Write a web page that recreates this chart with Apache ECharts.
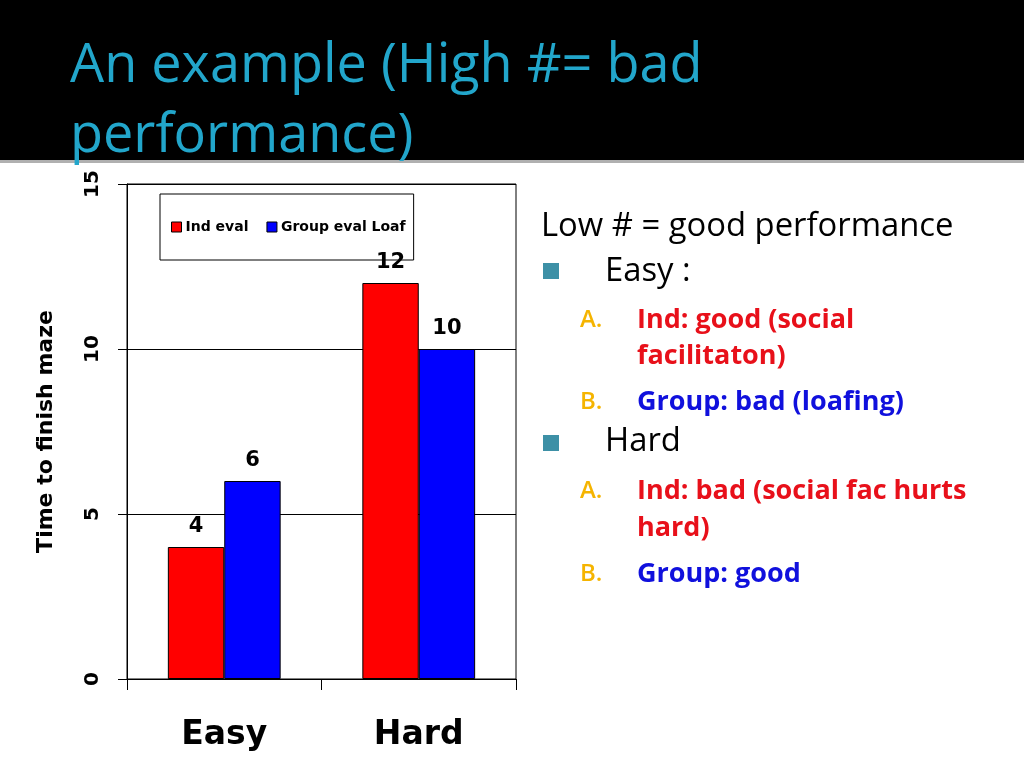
<!DOCTYPE html>
<html>
<head>
<meta charset="utf-8">
<script src="https://cdn.jsdelivr.net/npm/echarts@6/dist/echarts.min.js"></script>
<style>
html,body{margin:0;padding:0;background:#fff;}
#main{width:1024px;height:768px;}
</style>
</head>
<body>
<div id="main"></div>
<script>
var categories = ['Easy', 'Hard'];
var indEval = [4, 12];
var groupEval = [6, 10];
var seriesNames = ['Ind eval', 'Group eval Loaf'];
var yTicks = { min: 0, max: 15, interval: 5 };
var titleLines = ['An example (High #= bad', 'performance)'];
var yAxisName = 'Time to finish maze';

var chart = echarts.init(document.getElementById('main'));
var bodyFont = '"Open Sans", "Noto Sans", sans-serif';
var chartFont = '"DejaVu Sans", Verdana, sans-serif';

function txt(t, x, y, size, color, weight) {
  return {
    type: 'text', z: 100,
    style: {
      text: t, x: x, y: y, fill: color,
      font: (weight || 'normal') + ' ' + size + 'px ' + bodyFont,
      align: 'left', verticalAlign: 'middle'
    }
  };
}
function square(x, y) {
  return { type: 'rect', z: 100, shape: { x: x, y: y, width: 16, height: 16 }, style: { fill: '#3d90a6' } };
}

var red = '#ff0000', blue = '#0000ff';
var txtRed = '#e8101a', txtBlue = '#1010dd', orange = '#f5b400';

var graphics = [
  { type: 'rect', z: 90, shape: { x: 0, y: 0, width: 1024, height: 160 }, style: { fill: '#000' } },
  { type: 'rect', z: 90, shape: { x: 0, y: 160, width: 1024, height: 3 }, style: { fill: '#b0b0b0' } },
  txt(titleLines[0], 70, 67, 54, '#22a6cb'),
  txt(titleLines[1], 70, 137, 54, '#22a6cb'),
  txt('Low # = good performance', 541, 227, 32.8, '#000'),
  square(543, 263),
  txt('Easy :', 605, 272, 32.8, '#000'),
  txt('A.', 580, 320, 24, orange, '600'),
  txt('Ind: good (social', 637, 320, 27, txtRed, 'bold'),
  txt('facilitaton)', 637, 356, 27, txtRed, 'bold'),
  txt('B.', 580, 402, 24, orange, '600'),
  txt('Group: bad (loafing)', 637, 402, 27, txtBlue, 'bold'),
  square(543, 435),
  txt('Hard', 605, 442, 32.8, '#000'),
  txt('A.', 580, 491, 24, orange, '600'),
  txt('Ind: bad (social fac hurts', 637, 491, 27, txtRed, 'bold'),
  txt('hard)', 637, 528, 27, txtRed, 'bold'),
  txt('B.', 580, 574, 24, orange, '600'),
  txt('Group: good', 637, 574, 27, txtBlue, 'bold')
];

var labelStyle = { show: true, position: 'top', distance: 10, color: '#000', fontWeight: 'bold', fontSize: 21, fontFamily: chartFont };

chart.setOption({
  backgroundColor: '#fff',
  animation: false,
  grid: { left: 127, right: 508, top: 184, bottom: 89, show: true, borderColor: '#000', borderWidth: 1, backgroundColor: 'transparent' },
  legend: {
    left: 160, top: 194, z: 1,
    padding: [26, 8, 26, 11],
    backgroundColor: '#fff', borderColor: '#000', borderWidth: 1,
    itemWidth: 10, itemHeight: 10, itemGap: 18,
    icon: 'rect',
    itemStyle: { borderColor: '#000', borderWidth: 1 },
    textStyle: { fontFamily: chartFont, fontWeight: 'bold', fontSize: 14, color: '#000', padding: [0, 0, 0, -1] },
    data: seriesNames
  },
  xAxis: {
    type: 'category', data: categories,
    axisLine: { lineStyle: { color: '#000', width: 1 } },
    axisTick: { show: true, length: 11, lineStyle: { color: '#000' } },
    axisLabel: { color: '#000', fontWeight: 'bold', fontSize: 33, fontFamily: chartFont, margin: 40 }
  },
  yAxis: {
    type: 'value', min: yTicks.min, max: yTicks.max, interval: yTicks.interval,
    name: yAxisName, nameLocation: 'middle', nameRotate: 90, nameGap: 70,
    nameTextStyle: { color: '#000', fontWeight: 'bold', fontSize: 22, fontFamily: chartFont },
    axisLine: { show: true, lineStyle: { color: '#000', width: 1 } },
    axisTick: { show: true, length: 9, lineStyle: { color: '#000' } },
    axisLabel: { color: '#000', fontWeight: 'bold', fontSize: 20, fontFamily: chartFont, rotate: 90, margin: 24 },
    splitLine: { show: true, lineStyle: { color: '#000', width: 1 } }
  },
  series: [
    { name: seriesNames[0], type: 'bar', data: indEval, barGap: '0%', barCategoryGap: '42%', z: 5,
      itemStyle: { color: red, borderColor: '#000', borderWidth: 1 }, label: labelStyle },
    { name: seriesNames[1], type: 'bar', data: groupEval, barGap: '0%', barCategoryGap: '42%', z: 5,
      itemStyle: { color: blue, borderColor: '#000', borderWidth: 1 }, label: labelStyle }
  ],
  graphic: graphics
});
</script>
</body>
</html>
